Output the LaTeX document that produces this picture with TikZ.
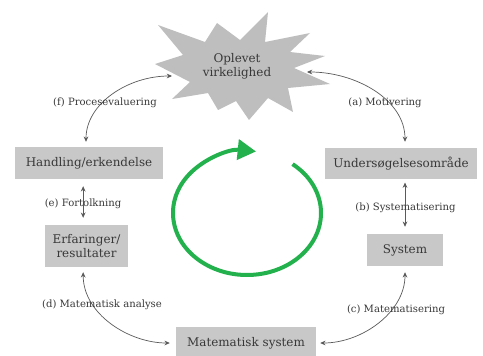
\documentclass[tikz,border=0pt]{standalone}
\usepackage{fontspec}
\setmainfont{DejaVu Serif}
\usetikzlibrary{arrows.meta}

\definecolor{boxgray}{HTML}{C8C8C8}
\definecolor{stargray}{HTML}{BEBEBE}
\definecolor{linegray}{HTML}{5A5A5A}
\definecolor{txtgray}{HTML}{383838}
\definecolor{cyclegreen}{HTML}{22B14C}

\begin{document}
\begin{tikzpicture}[x=0.03cm, y=0.03cm,
    stagebox/.style={fill=boxgray, text=txtgray, font=\fontsize{10.2}{12}\selectfont, inner sep=0pt, align=center},
    steplabel/.style={text=txtgray, font=\fontsize{8.6}{10}\selectfont},
    link/.style={draw=linegray, line width=0.6pt, {Stealth[length=4.5pt,width=4pt]}-{Stealth[length=4.5pt,width=4pt]}}]
  \useasboundingbox (0,0) rectangle (483,355);

  \fill[stargray] (158,330) -- (205,313) -- (217,332) -- (240,315) -- (268,343) -- (265,313)
    -- (310,322) -- (290,303) -- (325,299) -- (294,287) -- (330,271) -- (288,267)
    -- (293,243) -- (268,257) -- (249,235) -- (236,254) -- (218,245) -- (208,262)
    -- (172,256) -- (190,273) -- (155,291) -- (183,300) -- cycle;
  \node[text=txtgray, font=\fontsize{10.2}{12}\selectfont, align=center] (real) at (237,289) {Oplevet\\virkelighed};
  \coordinate (fend) at (172,279);
  \coordinate (aend) at (307,283);

  \node[stagebox, minimum width=4.44cm, minimum height=0.96cm] (hand) at (89,192) {Handling/erkendelse};
  \node[stagebox, minimum width=2.49cm, minimum height=1.26cm] (erf) at (86.5,109) {Erfaringer/\\resultater};
  \node[stagebox, minimum width=4.56cm, minimum height=0.93cm] (under) at (401,191.5) {Undersøgelsesområde};
  \node[stagebox, minimum width=2.28cm, minimum height=0.96cm] (sys) at (405,105) {System};
  \node[stagebox, minimum width=4.2cm, minimum height=0.96cm] (mat) at (246,12) {Matematisk system};

  \draw[link, shorten <=0.15cm] ([xshift=-0.09cm]hand.north) to[out=90, in=180] (fend);
  \draw[link, shorten >=0.18cm] (aend) to[out=0, in=90] (under.north -| sys.north);
  \draw[link, shorten <=0.21cm, shorten >=0.21cm] ([xshift=-0.1cm]erf.north |- hand.south) -- ([xshift=-0.1cm]erf.north);
  \draw[link, shorten <=0.1cm, shorten >=0.21cm] (sys.north |- under.south) -- (sys.north);
  \draw[link, shorten <=0.15cm, shorten >=0.18cm] ([xshift=-0.1cm]erf.south) to[out=-90, in=180] (mat.west);
  \draw[link, shorten <=0.18cm, shorten >=0.12cm] (sys.south) to[out=-90, in=0] (mat.east);

  \node[steplabel] (lblf) at (105,252) {(f) Procesevaluering};
  \node[steplabel] (lbla) at (385,252) {(a) Motivering};
  \node[steplabel] (lble) at (83,151) {(e) Fortolkning};
  \node[steplabel] (lblb) at (405.5,147) {(b) Systematisering};
  \node[steplabel] (lbld) at (102,50) {(d) Matematisk analyse};
  \node[steplabel] (lblc) at (396,45) {(c) Matematisering};

  \coordinate (loopc) at (247,142);
  \draw[cyclegreen, line width=0.12cm, -{Triangle[length=0.55cm, width=0.6cm]}]
    ([shift={(52:74 and 62)}]loopc) arc[start angle=52, end angle=-277, x radius=74, y radius=62];
\end{tikzpicture}
\end{document}
